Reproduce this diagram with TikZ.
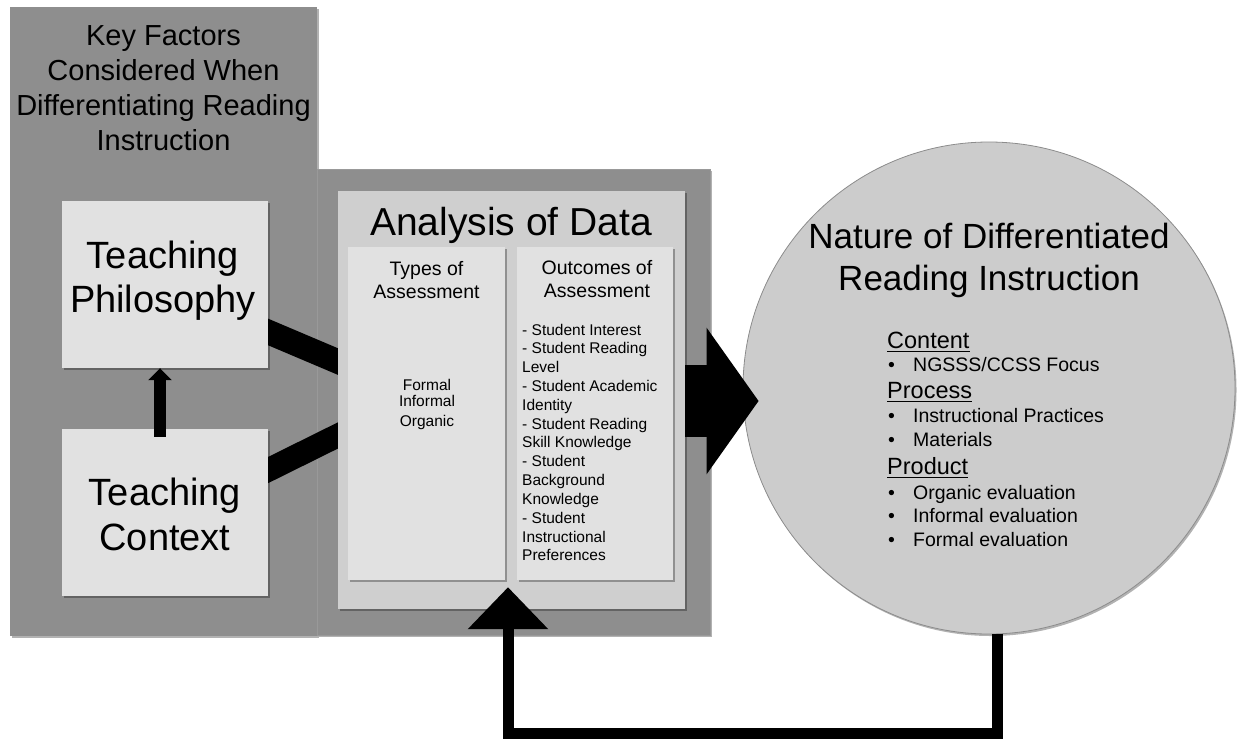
\documentclass[tikz,border=0pt]{standalone}
\usepackage{fontspec}
\setmainfont{Liberation Sans}
\usetikzlibrary{arrows.meta,shadows}
\definecolor{panelgray}{RGB}{142,142,142}
\definecolor{anabox}{RGB}{207,207,207}
\definecolor{lightbox}{RGB}{225,225,225}
\definecolor{circfill}{RGB}{204,204,204}
\definecolor{circline}{RGB}{140,140,140}
\pgfdeclarelayer{panels}
\pgfdeclarelayer{bands}
\pgfsetlayers{panels,bands,main}
\newcommand\crow[2]{\kern#1pt\hbox to 0pt{\hss\smash{#2}\hss}}
\newcommand\lrow[2]{\kern#1pt\hbox{\smash{#2}}}
\newcommand\fs[2]{\fontsize{#1}{#2}\selectfont}
\newcommand\bul{\hbox to 26pt{\hspace{1pt}\textbullet\hss}}
\newcommand\hd[1]{\fs{23.5}{28}\sbox0{#1}\rlap{\rule[-4pt]{\wd0}{1.7pt}}\usebox0}
\begin{document}
\begin{tikzpicture}[x=1pt,y=-1pt,
  softshadow/.style={drop shadow={shadow xshift=1.5pt,shadow yshift=-2pt,opacity=0.3,fill=black}},
  panel/.style={rectangle,inner sep=0pt,fill=panelgray,softshadow},
  anastyle/.style={rectangle,inner sep=0pt,fill=anabox,softshadow},
  boxa/.style={rectangle,inner sep=0pt,fill=lightbox,softshadow},
  txt/.style={inner sep=0pt,anchor=base},
  ltxt/.style={inner sep=0pt,anchor=base west},
  band/.style={black,shorten <=-12pt,shorten >=-12pt}]
\path[use as bounding box] (0,0) rectangle (1239,742);

\begin{pgfonlayer}{panels}
\node[panel,minimum width=307pt,minimum height=629pt] (leftpanel) at (163.5,321.5) {};
\node[panel,minimum width=393pt,minimum height=466pt,draw=black!40,line width=0.4pt] (midpanel) at (513.5,402) {};
\end{pgfonlayer}

% boxes
\node[anastyle,minimum width=347pt,minimum height=418pt] (analysis) at (511.5,400) {};
\node[boxa,minimum width=157pt,minimum height=333pt] (types) at (426.5,413.5) {};
\node[boxa,minimum width=156pt,minimum height=333pt] (outcomes) at (595,413.5) {};
\node[boxa,minimum width=206pt,minimum height=167pt] (phil) at (165,284.5) {};
\node[boxa,minimum width=206pt,minimum height=167pt] (context) at (165,512.5) {};
\node[circle,inner sep=0pt,fill=circfill,draw=circline,line width=0.8pt,minimum size=492pt,softshadow] (circ) at (989,388) {};

% bands
\begin{pgfonlayer}{bands}
\draw[band,line width=24.5pt] ([yshift=-47.5pt]phil.east) -- ([yshift=38.5pt]analysis.west);
\draw[band,line width=23.5pt] ([yshift=42.5pt]context.east) -- ([yshift=-35.5pt]analysis.west);
\end{pgfonlayer}

% texts
\node[txt] (keytitle) at (163.5,45) {\fs{29}{35}\vtop{\offinterlineskip
  \crow{0}{Key Factors}\crow{35}{Considered When}\crow{35}{Differentiating Reading}\crow{35}{Instruction}}};
\node[txt] (philtext) at (163,268) {\fs{38}{44}\vtop{\offinterlineskip
  \crow{0}{Teaching}\crow{44}{Philosophy}}};
\node[txt] (contexttext) at (165,505) {\fs{38}{44}\vtop{\offinterlineskip
  \crow{0}{Teaching}\crow{45}{Context}}};
\node[txt] (anatitle) at (511,235) {\fs{39}{45}Analysis of Data};
\node[txt] (typestitle) at (426.5,275) {\fs{19.5}{23}\vtop{\offinterlineskip
  \crow{0}{Types of}\crow{23}{Assessment}}};
\node[txt] (outtitle) at (597,274) {\fs{19.5}{23}\vtop{\offinterlineskip
  \crow{0}{Outcomes of}\crow{23}{Assessment}}};
\node[txt] (typeslist) at (427,390) {\fs{15.5}{18}\vtop{\offinterlineskip
  \crow{0}{Formal}\crow{16.7}{Informal}\crow{20}{Organic}}};
\node[ltxt] (outlist) at (522,335) {\fs{15.5}{18}\vtop{\offinterlineskip
  \lrow{0}{- Student Interest}
  \lrow{18.83}{- Student Reading}
  \lrow{18.83}{Level}
  \lrow{18.83}{- Student Academic}
  \lrow{18.83}{Identity}
  \lrow{18.83}{- Student Reading}
  \lrow{18.83}{Skill Knowledge}
  \lrow{18.83}{- Student}
  \lrow{18.83}{Background}
  \lrow{18.83}{Knowledge}
  \lrow{18.83}{- Student}
  \lrow{18.83}{Instructional}
  \lrow{18.83}{Preferences}}};
\node[txt] (circtitle) at (989,248) {\fs{35}{42}\vtop{\offinterlineskip
  \crow{0}{Nature of Differentiated}\crow{42}{Reading Instruction}}};
\node[ltxt] (circlist) at (887,348.3) {\fs{19.5}{24}\vtop{\offinterlineskip
  \lrow{0}{\hd{Content}}
  \lrow{22.7}{\bul NGSSS/CCSS Focus}
  \lrow{27.3}{\hd{Process}}
  \lrow{24.4}{\bul Instructional Practices}
  \lrow{24}{\bul Materials}
  \lrow{27.6}{\hd{Product}}
  \lrow{25}{\bul Organic evaluation}
  \lrow{23.4}{\bul Informal evaluation}
  \lrow{24}{\bul Formal evaluation}}};

% arrows
\draw[line width=12pt,-{Triangle[length=12pt,width=23pt]}]
  ([xshift=-5pt,yshift=-8pt]context.north) -- ([xshift=-5pt]phil.south);
\coordinate (tipend) at ([xshift=16pt,yshift=-13pt]circ.west);
\draw[line width=72pt,-{Triangle[length=52pt,width=144pt]}]
  (analysis.east |- tipend) -- (tipend);
\coordinate (fbtip) at ([xshift=-3.5pt,yshift=22pt]analysis.south);
\draw[line width=11pt,line join=miter,-{Triangle[length=42pt,width=78pt]}]
  ([xshift=8pt]circ.south) -- ++(0,99) -| (fbtip);
\end{tikzpicture}
\end{document}
